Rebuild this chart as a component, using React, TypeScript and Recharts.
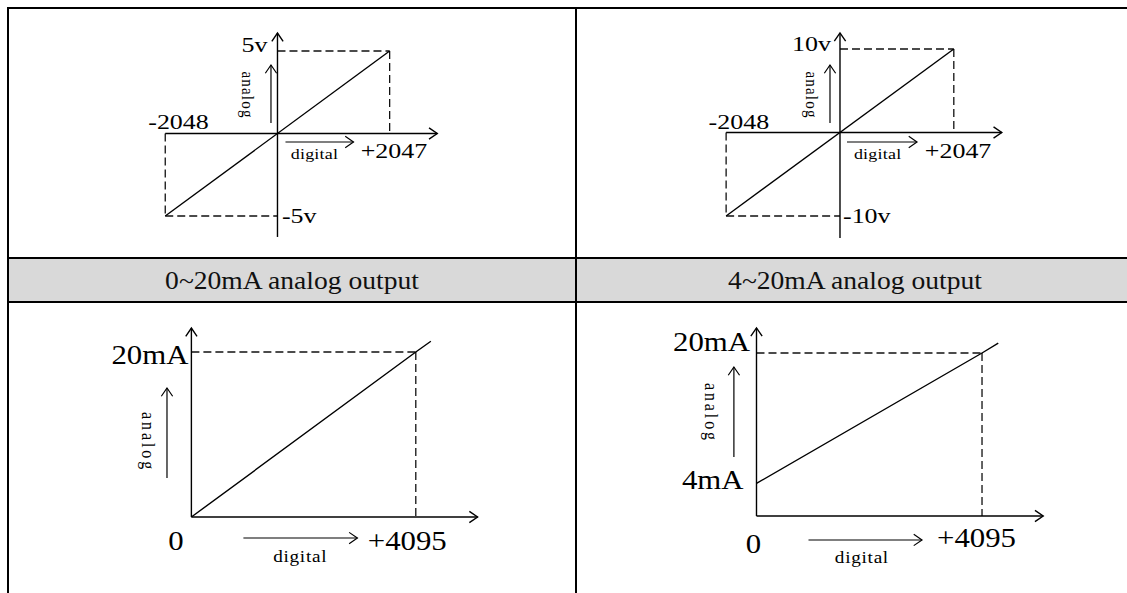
import React from 'react';
import { LineChart, Line, XAxis, YAxis, ReferenceLine, ReferenceDot } from 'recharts';

const SERIF = '"Liberation Serif", "Times New Roman", serif';
const INK = '#000';
const DASH_INK = '#111';

// ---------- data ----------
const headerTitles = ['0~20mA analog output', '4~20mA analog output'];
const axisNameX = 'digital';
const axisNameY = 'analog';

// -5V ~ +5V output
const bipolarDigital = [-2048, 2047];
const volt5Analog = [-5, 5];
const volt5Ticks = ['-2048', '+2047', '5v', '-5v'];

// -10V ~ +10V output
const volt10Analog = [-10, 10];
const volt10Ticks = ['-2048', '+2047', '10v', '-10v'];

// 0 ~ 20mA output (line drawn slightly past full scale)
const current020Digital = [0, 4095, 4370];
const current020Analog = [0, 20, 21.3];
const current020Ticks = ['0', '+4095', '20mA'];

// 4 ~ 20mA output
const current420Digital = [0, 4095, 4390];
const current420Analog = [4, 20, 21.2];
const current420Ticks = ['0', '+4095', '20mA', '4mA'];

// ---------- helpers ----------
type Seg = [number, number, number, number];
type Lbl = { x: number; y: number; text: string; anchor: 'start' | 'middle' | 'end'; dx: number; dy: number };
type Caption = {
  yArrow: [number, number, number];
  xArrow: [number, number, number];
  yText: [number, number];
  xText: [number, number];
  size: number;
  spacingY: number;
  spacingX: number;
};
type Spec = {
  box: { left: number; top: number; width: number; height: number };
  xDomain: [number, number];
  yDomain: [number, number];
  line: { x: number; y: number }[];
  axes: Seg[];
  dashed: Seg[];
  labels: Lbl[];
  font: number;
  stretch: number;
  caption: Caption;
};

function arrowPath(x1: number, y1: number, x2: number, y2: number, w: number, key?: string) {
  const a = Math.atan2(y2 - y1, x2 - x1);
  const L = 10;
  const W = 0.6;
  const pts = [
    [x2 - L * Math.cos(a - W), y2 - L * Math.sin(a - W)],
    [x2, y2],
    [x2 - L * Math.cos(a + W), y2 - L * Math.sin(a + W)],
  ]
    .map((q) => q.join(','))
    .join(' ');
  return (
    <g key={key}>
      <line x1={x1} y1={y1} x2={x2} y2={y2} stroke={INK} strokeWidth={w} />
      <polyline points={pts} fill="none" stroke={INK} strokeWidth={w} />
    </g>
  );
}

const arrowShape = (p: any) => arrowPath(p.x1, p.y1, p.x2, p.y2, 1.4);

const labelShape = (l: Lbl, font: number, stretch: number) => (p: any) => (
  <text
    transform={`translate(${p.cx + l.dx},${p.cy + l.dy}) scale(${stretch},1)`}
    textAnchor={l.anchor}
    fontFamily={SERIF}
    fontSize={font}
    fill={INK}
  >
    {l.text}
  </text>
);

const captionShape = (c: Caption) => (p: any) => {
  const { cx, cy } = p;
  return (
    <g>
      {arrowPath(cx + c.yArrow[0], cy + c.yArrow[1], cx + c.yArrow[0], cy + c.yArrow[2], 1.2)}
      {arrowPath(cx + c.xArrow[1], cy + c.xArrow[0], cx + c.xArrow[2], cy + c.xArrow[0], 1.2)}
      <text
        transform={`translate(${cx + c.yText[0]},${cy + c.yText[1]}) scale(1.17,1) rotate(90)`}
        textAnchor="middle"
        dominantBaseline="central"
        fontFamily={SERIF}
        fontSize={c.size}
        letterSpacing={c.spacingY}
        fill={INK}
      >
        {axisNameY}
      </text>
      <text
        transform={`translate(${cx + c.xText[0]},${cy + c.xText[1]}) scale(1.2,1)`}
        textAnchor="middle"
        fontFamily={SERIF}
        fontSize={c.size}
        letterSpacing={c.spacingX}
        fill={INK}
      >
        {axisNameX}
      </text>
    </g>
  );
};

const zip = (xs: number[], ys: number[]) => xs.map((x, i) => ({ x, y: ys[i] }));

const bipolarDashed = (d: number[], a: number[]): Seg[] => [
  [0, a[1], d[1], a[1]],
  [d[1], a[1], d[1], 0],
  [d[0], 0, d[0], a[0]],
  [d[0], a[0], 0, a[0]],
];
const unipolarDashed = (d: number[], a: number[]): Seg[] => [
  [0, a[1], d[1], a[1]],
  [d[1], a[1], d[1], 0],
];

// ---------- chart specs ----------
const specs: Spec[] = [
  {
    box: { left: 10, top: 10, width: 564, height: 246 },
    xDomain: [-4881, 5411],
    yDomain: [-7.424, 7.485],
    line: zip(bipolarDigital, volt5Analog),
    axes: [
      [bipolarDigital[0], 0, 2916, 0],
      [0, -6.27, 0, 6.09],
    ],
    dashed: bipolarDashed(bipolarDigital, volt5Analog),
    labels: [
      { x: bipolarDigital[0], y: 0, text: volt5Ticks[0], anchor: 'start', dx: -17, dy: -4.5 },
      { x: bipolarDigital[1], y: 0, text: volt5Ticks[1], anchor: 'start', dx: -29, dy: 24.5 },
      { x: 0, y: volt5Analog[1], text: volt5Ticks[2], anchor: 'end', dx: -10, dy: 1 },
      { x: 0, y: volt5Analog[0], text: volt5Ticks[3], anchor: 'start', dx: 4.5, dy: 6.5 },
    ],
    font: 22,
    stretch: 1.18,
    caption: {
      yArrow: [-6.5, -10.5, -68.5],
      xArrow: [8.5, 8, 76],
      yText: [-29.5, -38.5],
      xText: [37, 25.5],
      size: 15,
      spacingY: 1.2,
      spacingX: 0.2,
    },
  },
  {
    box: { left: 578, top: 10, width: 546, height: 246 },
    xDomain: [-4712, 5108],
    yDomain: [-14.79, 14.67],
    line: zip(bipolarDigital, volt10Analog),
    axes: [
      [bipolarDigital[0], 0, 2910, 0],
      [0, -12.63, 0, 11.92],
    ],
    dashed: bipolarDashed(bipolarDigital, volt10Analog),
    labels: [
      { x: bipolarDigital[0], y: 0, text: volt10Ticks[0], anchor: 'start', dx: -17.5, dy: -3.5 },
      { x: bipolarDigital[1], y: 0, text: volt10Ticks[1], anchor: 'start', dx: -29, dy: 25.5 },
      { x: 0, y: volt10Analog[1], text: volt10Ticks[2], anchor: 'end', dx: -9, dy: 2 },
      { x: 0, y: volt10Analog[0], text: volt10Ticks[3], anchor: 'start', dx: 3, dy: 6.5 },
    ],
    font: 22,
    stretch: 1.18,
    caption: {
      yArrow: [-10, -9.5, -67.5],
      xArrow: [9.5, 7, 77],
      yText: [-28.5, -37.5],
      xText: [37.7, 26.5],
      size: 15,
      spacingY: 1.2,
      spacingX: 0.2,
    },
  },
  {
    box: { left: 10, top: 304, width: 564, height: 289 },
    xDomain: [-3310, 6982],
    yDomain: [-9.21, 25.82],
    line: zip(current020Digital, current020Analog),
    axes: [
      [0, 0, 5223, 0],
      [0, 0, 0, 22.9],
    ],
    dashed: unipolarDashed(current020Digital, current020Analog),
    labels: [
      { x: 0, y: current020Analog[1], text: current020Ticks[2], anchor: 'end', dx: -3, dy: 12 },
      { x: 0, y: 0, text: current020Ticks[0], anchor: 'middle', dx: -15.5, dy: 33 },
      { x: current020Digital[1], y: 0, text: current020Ticks[1], anchor: 'start', dx: -48, dy: 33 },
    ],
    font: 28,
    stretch: 1.1,
    caption: {
      yArrow: [-24.4, -39, -129],
      xArrow: [21, 52, 166],
      yText: [-43.4, -75],
      xText: [108.8, 45],
      size: 16,
      spacingY: 2.9,
      spacingX: 0.6,
    },
  },
  {
    box: { left: 578, top: 304, width: 546, height: 289 },
    xDomain: [-3241, 6673],
    yDomain: [-9.45, 26.01],
    line: zip(current420Digital, current420Analog),
    axes: [
      [0, 0, 5206, 0],
      [0, 0, 0, 23.07],
    ],
    dashed: unipolarDashed(current420Digital, current420Analog),
    labels: [
      { x: 0, y: current420Analog[1], text: current420Ticks[2], anchor: 'end', dx: -6.5, dy: -2 },
      { x: 0, y: current420Analog[0], text: current420Ticks[3], anchor: 'end', dx: -13, dy: 5.6 },
      { x: 0, y: 0, text: current420Ticks[0], anchor: 'middle', dx: -3, dy: 37 },
      { x: current420Digital[1], y: 0, text: current420Ticks[1], anchor: 'start', dx: -45, dy: 31 },
    ],
    font: 28,
    stretch: 1.1,
    caption: {
      yArrow: [-22.6, -59, -149],
      xArrow: [24, 52, 165.5],
      yText: [-45, -103],
      xText: [105.4, 47],
      size: 16,
      spacingY: 2.9,
      spacingX: 0.6,
    },
  },
];

function Diagram({ spec }: { spec: Spec }) {
  const { box } = spec;
  return (
    <div style={{ position: 'absolute', left: box.left, top: box.top, width: box.width, height: box.height }}>
      <LineChart width={box.width} height={box.height} margin={{ top: 0, right: 0, bottom: 0, left: 0 }}>
        <XAxis type="number" dataKey="x" domain={spec.xDomain} hide allowDataOverflow />
        <YAxis type="number" dataKey="y" domain={spec.yDomain} hide allowDataOverflow />
        {spec.dashed.map((s, i) => (
          <ReferenceLine
            key={'d' + i}
            segment={[{ x: s[0], y: s[1] }, { x: s[2], y: s[3] }]}
            stroke={DASH_INK}
            strokeWidth={1.3}
            strokeDasharray="8 4"
            ifOverflow="visible"
          />
        ))}
        {spec.axes.map((s, i) => (
          <ReferenceLine
            key={'a' + i}
            segment={[{ x: s[0], y: s[1] }, { x: s[2], y: s[3] }]}
            shape={arrowShape}
            ifOverflow="visible"
          />
        ))}
        <Line
          data={spec.line}
          dataKey="y"
          type="linear"
          stroke={INK}
          strokeWidth={1.4}
          dot={false}
          activeDot={false}
          isAnimationActive={false}
        />
        {spec.labels.map((l, i) => (
          <ReferenceDot key={'l' + i} x={l.x} y={l.y} r={1} shape={labelShape(l, spec.font, spec.stretch)} ifOverflow="visible" />
        ))}
        <ReferenceDot x={0} y={0} r={1} shape={captionShape(spec.caption)} ifOverflow="visible" />
      </LineChart>
    </div>
  );
}

export default function App() {
  const line = (style: React.CSSProperties) => (
    <div style={{ position: 'absolute', background: '#000', ...style }} />
  );
  return (
    <div
      style={{
        position: 'absolute',
        left: 0,
        top: 0,
        width: 1127,
        height: 593,
        overflow: 'hidden',
        background: '#fff',
      }}
    >
      {/* header band */}
      <div style={{ position: 'absolute', left: 9, top: 259, width: 1118, height: 42, background: '#d9d9d9' }} />
      {headerTitles.map((t, i) => (
        <div
          key={t}
          style={{
            position: 'absolute',
            left: i === 0 ? 92 : 655,
            width: 400,
            top: 261,
            height: 40,
            lineHeight: '40px',
            textAlign: 'center',
            fontFamily: SERIF,
            fontSize: 26,
            color: '#111',
            transform: 'scaleX(1.06)',
          }}
        >
          {t}
        </div>
      ))}
      {/* table rules */}
      {line({ left: 7, top: 7, width: 1120, height: 2 })}
      {line({ left: 7, top: 7, width: 2, height: 586 })}
      {line({ left: 575, top: 7, width: 2, height: 586 })}
      {line({ left: 7, top: 257, width: 1120, height: 2 })}
      {line({ left: 7, top: 301, width: 1120, height: 2 })}
      {specs.map((s, i) => (
        <Diagram key={i} spec={s} />
      ))}
    </div>
  );
}
